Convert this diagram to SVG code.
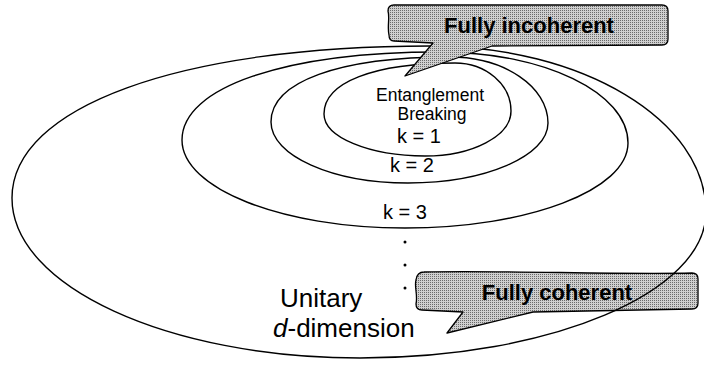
<svg xmlns="http://www.w3.org/2000/svg" width="704" height="367" viewBox="0 0 704 367">
  <style>
    .ring { fill: none; stroke: #000; stroke-width: 1.4; }
    .callout { fill: url(#halftone); stroke: #000; stroke-width: 1.3; stroke-linejoin: round; }
    .lbl { font-family: "Liberation Sans", Arial, sans-serif; fill: #000; }
    .head { font-family: "Liberation Sans", Arial, sans-serif; font-weight: bold; font-size: 22px; fill: #000; text-anchor: middle; }
  </style>
  <defs>
    <!-- fine dot screen for the banner fill -->
    <pattern id="halftone" width="2" height="2" patternUnits="userSpaceOnUse">
      <rect width="2" height="2" fill="#cfcfcf"/>
      <rect width="1" height="1" fill="#6a6a6a"/>
    </pattern>
  </defs>

  <!-- banner at the bottom right (sits under the outer ring) -->
  <g id="fully-coherent">
    <path class="callout" d="M 424,272 C 500,270 620,275 692,273 Q 698,273 698,279 L 698,303 Q 698,309 692,309 L 533,312 L 447,333 L 463,312 L 422,310 Q 416,310 416,304 C 418,295 414,286 416,280 Q 417,272 424,272 Z"/>
    <text class="head" x="557" y="300">Fully coherent</text>
  </g>

  <!-- nested channel sets -->
  <g id="unitary">
    <path class="ring" d="M 430,46 C 582.4,46 706,120.3 706,212 C 706,292.6 551.1,358 360,358 C 167.8,358 12,286.4 12,198 C 12,106.8 179.2,46 430,46 Z"/>
    <text class="lbl" font-size="26" x="280" y="307">Unitary</text>
    <text class="lbl" font-size="26" x="273" y="337"><tspan font-style="italic">d</tspan>-dimension</text>
    <circle cx="405" cy="242" r="1.5" fill="#000"/>
    <circle cx="405" cy="265" r="1.5" fill="#000"/>
    <circle cx="405" cy="288" r="1.5" fill="#000"/>
  </g>

  <g id="k3">
    <path class="ring" d="M 440,52 C 543.8,52 628,92.7 628,143 C 628,190 528.2,228 405,228 C 281.8,228 182,188.6 182,140 C 182,87.2 285.2,52 440,52 Z"/>
    <text class="lbl" font-size="20" x="405" y="219" text-anchor="middle">k = 3</text>
  </g>

  <g id="k2">
    <path class="ring" d="M 450,57 C 504.1,57 548,86.5 548,123 C 548,156.1 485.3,183 408,183 C 332.3,183 271,155.7 271,122 C 271,81.7 339,57 450,57 Z"/>
    <text class="lbl" font-size="20" x="412" y="172" text-anchor="middle">k = 2</text>
  </g>

  <g id="k1">
    <path class="ring" d="M 455,63 C 485.9,63 511,84.5 511,111 C 511,135.9 472.5,156 425,156 C 369.2,156 324,137.2 324,114 C 324,82.4 373.8,63 455,63 Z"/>
    <text class="lbl" font-size="17.5" x="430" y="101" text-anchor="middle">Entanglement</text>
    <text class="lbl" font-size="17.5" x="432" y="120" text-anchor="middle">Breaking</text>
    <text class="lbl" font-size="20" x="419" y="143" text-anchor="middle">k = 1</text>
  </g>

  <!-- banner at the top (covers the rings where they meet) -->
  <g id="fully-incoherent">
    <path class="callout" d="M 394,5 L 662,5 Q 668,5 668,11 L 668,39 Q 668,45 662,45 L 492,46 L 405,76 L 433,43 L 394,41 Q 389,41 389,35 C 387,27 390,18 388,11 Q 388,5 394,5 Z"/>
    <text class="head" x="529" y="33">Fully incoherent</text>
  </g>

  <!-- no connectors between the sets -->
  <g id="connectors"/>
</svg>
